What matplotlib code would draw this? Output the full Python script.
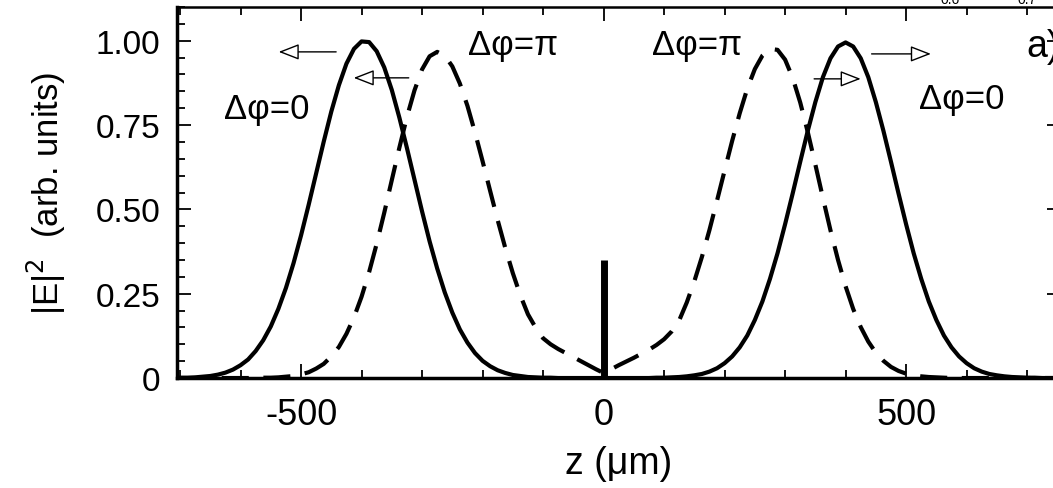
import matplotlib
matplotlib.use("Agg")
import matplotlib.pyplot as plt
from matplotlib.patches import FancyArrowPatch
from matplotlib.ticker import MultipleLocator

plt.rcParams["font.family"] = ["Liberation Sans", "DejaVu Sans"]

# z grid (um) and |E|^2
z_um = [
    -700, -687.5, -675, -662.5, -650, -637.5, -625, -612.5, -600, -587.5,
    -575, -562.5, -550, -537.5, -525, -512.5, -500, -487.5, -475, -462.5,
    -450, -437.5, -425, -412.5, -400, -387.5, -375, -362.5, -350, -337.5,
    -325, -312.5, -300, -287.5, -275, -262.5, -250, -237.5, -225, -212.5,
    -200, -187.5, -175, -162.5, -150, -137.5, -125, -112.5, -100, -87.5,
    -75, -62.5, -50, -37.5, -25, -12.5, 0,
    12.5, 25, 37.5, 50, 62.5, 75, 87.5, 100, 112.5, 125,
    137.5, 150, 162.5, 175, 187.5, 200, 212.5, 225, 237.5, 250,
    262.5, 275, 287.5, 300, 312.5, 325, 337.5, 350, 362.5, 375,
    387.5, 400, 412.5, 425, 437.5, 450, 462.5, 475, 487.5, 500,
    512.5, 525, 537.5, 550, 562.5, 575, 587.5, 600, 612.5, 625,
    637.5, 650, 662.5, 675, 687.5, 700, 712.5, 725, 737.5, 750,
]
# delta phi = 0 (solid)
e2_phase0 = [
    0.001, 0.001, 0.002, 0.004, 0.006, 0.010, 0.016, 0.025, 0.038, 0.055,
    0.080, 0.112, 0.153, 0.205, 0.267, 0.340, 0.423, 0.513, 0.607, 0.701,
    0.790, 0.868, 0.932, 0.976, 0.998, 0.996, 0.969, 0.921, 0.854, 0.772,
    0.682, 0.588, 0.494, 0.405, 0.325, 0.254, 0.194, 0.144, 0.105, 0.074,
    0.051, 0.035, 0.023, 0.015, 0.009, 0.006, 0.003, 0.002, 0.001, 0.001,
    0.0, 0.0, 0.0, 0.0, 0.0, 0.0, 0.0,
    0.0, 0.0, 0.0, 0.0, 0.0, 0.0, 0.001, 0.001, 0.002, 0.003,
    0.005, 0.008, 0.012, 0.019, 0.029, 0.044, 0.064, 0.091, 0.126, 0.172,
    0.227, 0.294, 0.370, 0.456, 0.547, 0.641, 0.733, 0.818, 0.892, 0.948,
    0.983, 0.995, 0.983, 0.948, 0.892, 0.818, 0.733, 0.641, 0.547, 0.456,
    0.370, 0.294, 0.227, 0.172, 0.126, 0.091, 0.064, 0.044, 0.029, 0.019,
    0.012, 0.008, 0.005, 0.003, 0.002, 0.001, 0.001, 0.0, 0.0, 0.0,
]
# delta phi = pi (dashed)
e2_phasepi = [
    0.0, 0.0, 0.0, 0.0, 0.0, 0.0, 0.0, 0.0, 0.0, 0.0,
    0.0, 0.001, 0.001, 0.002, 0.004, 0.006, 0.011, 0.017, 0.028, 0.042,
    0.064, 0.092, 0.131, 0.180, 0.241, 0.314, 0.398, 0.490, 0.587, 0.683,
    0.774, 0.853, 0.915, 0.954, 0.967, 0.956, 0.924, 0.873, 0.807, 0.728,
    0.643, 0.555, 0.468, 0.386, 0.311, 0.245, 0.189, 0.150, 0.118, 0.100,
    0.086, 0.074, 0.062, 0.050, 0.038, 0.026, 0.015,
    0.026, 0.038, 0.049, 0.060, 0.072, 0.084, 0.098, 0.115, 0.138, 0.171,
    0.224, 0.287, 0.359, 0.439, 0.526, 0.615, 0.703, 0.785, 0.858, 0.916,
    0.956, 0.976, 0.973, 0.944, 0.890, 0.817, 0.729, 0.633, 0.534, 0.438,
    0.350, 0.272, 0.205, 0.151, 0.108, 0.075, 0.051, 0.033, 0.021, 0.013,
    0.008, 0.005, 0.003, 0.002, 0.001, 0.0, 0.0, 0.0, 0.0, 0.0,
    0.0, 0.0, 0.0, 0.0, 0.0, 0.0, 0.0, 0.0, 0.0, 0.0,
]
# central bar
bar_z = [0, 0]
bar_e2 = [0.0, 0.35]

fig = plt.figure(figsize=(10.53, 4.89), dpi=100)
# right spine sits just past the crop, as in the source figure
ax = fig.add_axes([0.1681, 0.2249, 0.8395, 0.7587])

ax.plot(z_um, e2_phase0, color="black", lw=3.0, solid_joinstyle="round")
ax.plot(z_um, e2_phasepi, color="black", lw=3.0, dashes=(6.5, 3.5))
ax.plot(bar_z, bar_e2, color="black", lw=5.0, solid_capstyle="butt")

ax.set_xlim(-705, 756)
ax.set_ylim(0, 1.10)

ax.xaxis.set_minor_locator(MultipleLocator(100))
ax.yaxis.set_minor_locator(MultipleLocator(0.05))
ax.set_yticks([0, 0.25, 0.5, 0.75, 1.0])
ax.set_yticklabels(["0", "0.25", "0.50", "0.75", "1.00"])
ax.set_xticks([-500, 0, 500])
ax.set_xticklabels(["-500", "0", "500"])

ax.tick_params(which="both", direction="in", top=True, right=True, width=1.3)
ax.tick_params(which="major", length=10)
ax.tick_params(which="minor", length=6)
ax.tick_params(axis="x", labelsize=26, pad=14)
ax.tick_params(axis="y", labelsize=24, pad=12)

for side in ["left", "bottom"]:
    ax.spines[side].set_linewidth(2.5)
for side in ["top", "right"]:
    ax.spines[side].set_linewidth(1.8)

ax.set_xlabel("z (\u03bcm)", fontsize=27, labelpad=9)
ax.set_ylabel("|E|$^2$  (arb. units)", fontsize=25, labelpad=20)

# annotations
ax.text(-556, 0.80, "\u0394\u03c6=0", fontsize=25, ha="center", va="center")
ax.text(592, 0.83, "\u0394\u03c6=0", fontsize=25, ha="center", va="center")
ax.text(-150, 0.99, "\u0394\u03c6=\u03c0", fontsize=25, ha="center", va="center")
ax.text(155, 0.99, "\u0394\u03c6=\u03c0", fontsize=25, ha="center", va="center")
ax.text(698, 0.985, "a)", fontsize=27, ha="left", va="center")

arrows = [
    ((-442, 0.967), (-537, 0.967)),
    ((-322, 0.890), (-413, 0.890)),
    ((443, 0.961), (541, 0.961)),
    ((348, 0.887), (425, 0.887)),
]
for start, end in arrows:
    ax.add_patch(FancyArrowPatch(
        start, end, arrowstyle="-|>,head_length=0.9,head_width=0.35",
        mutation_scale=14, lw=1.0, ec="black", fc="white",
        shrinkA=0, shrinkB=0,
    ))

# tick labels of the panel above, cut by the crop
fig.text(950 / 1053, 1.0, "0.6", fontsize=10, ha="center", va="center")
fig.text(1027 / 1053, 1.0, "0.7", fontsize=10, ha="center", va="center")

fig.savefig("out.png", dpi=100)
